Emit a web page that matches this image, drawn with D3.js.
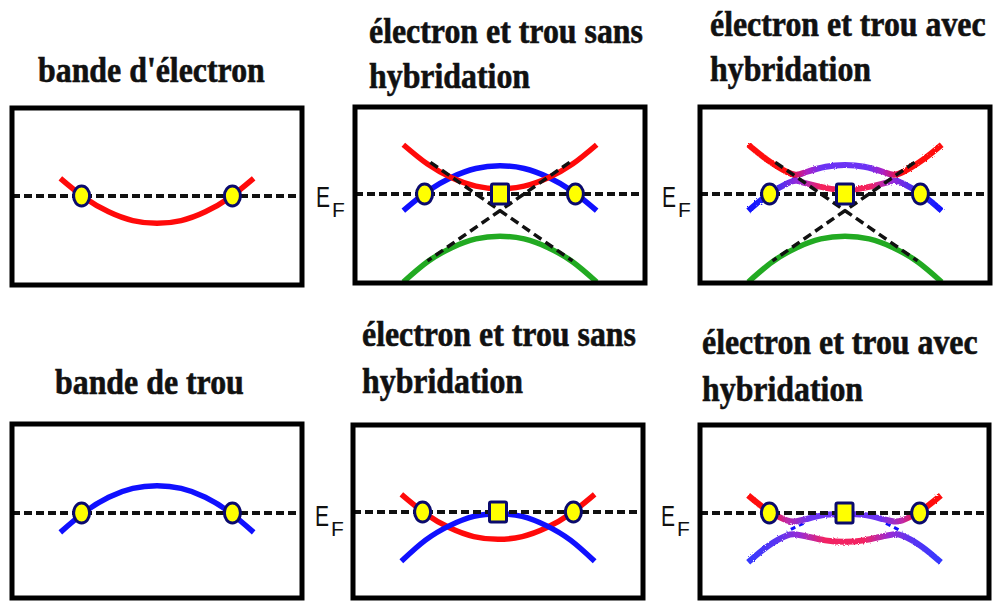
<!DOCTYPE html>
<html>
<head>
<meta charset="utf-8">
<script src="https://cdn.jsdelivr.net/npm/d3@7"></script>
<style>
  body { margin: 0; background: #fff; }
  svg { display: block; }
  .title { font-family: "Liberation Serif", "Times New Roman", "DejaVu Serif", serif; font-weight: bold; font-size: 36px; fill: #111; stroke: #111; stroke-width: 0.6; }
  .ef { font-family: "Liberation Sans", Arial, sans-serif; fill: #111; }
</style>
</head>
<body>
<svg id="chart" width="1000" height="601"></svg>
<script>
// k grid for the simple bands (k = -1 .. 1 spans the drawn curve)
var kGrid = [-1, -0.75, -0.5, -0.25, 0, 0.25, 0.5, 0.75, 1];
// energies relative to E_F (1 unit = half the box height)
var electronBand   = [0.20, -0.02, -0.18, -0.28, -0.31, -0.28, -0.18, -0.02, 0.20];
var holeBand       = [-0.22, 0.01, 0.18, 0.28, 0.31, 0.28, 0.18, 0.01, -0.22];
var electronTop    = [0.56, 0.34, 0.185, 0.09, 0.06, 0.09, 0.185, 0.34, 0.56];
var holeTop        = [-0.19, 0.03, 0.19, 0.29, 0.32, 0.29, 0.19, 0.03, -0.19];
var greenBand      = [-1.0, -0.77, -0.61, -0.51, -0.48, -0.51, -0.61, -0.77, -1.0];
var electronBottom = [0.20, -0.02, -0.18, -0.28, -0.31, -0.28, -0.18, -0.02, 0.20];
var holeBottom     = [-0.56, -0.32, -0.155, -0.05, -0.02, -0.05, -0.155, -0.32, -0.56];

// hybridized bands
var kHyb = [-1, -0.8, -0.6, -0.5, -0.4, -0.2, 0, 0.2, 0.4, 0.5, 0.6, 0.8, 1];
var hybUpperTop    = [0.56, 0.385, 0.25, 0.22, 0.25, 0.31, 0.33, 0.31, 0.25, 0.22, 0.25, 0.385, 0.56];
var hybLowerTop    = [-0.19, -0.01, 0.12, 0.15, 0.12, 0.07, 0.045, 0.07, 0.12, 0.15, 0.12, -0.01, -0.19];
var hybUpperBottom = [0.20, 0.03, -0.083, -0.093, -0.07, -0.021, -0.01, -0.021, -0.07, -0.093, -0.083, 0.03, 0.20];
var hybLowerBottom = [-0.56, -0.38, -0.257, -0.245, -0.264, -0.311, -0.328, -0.311, -0.264, -0.245, -0.257, -0.38, -0.56];

// linear (dashed) dispersions in the top row
var diagK = [-0.72, 0.75];
var diagE = [0.36, -0.76];

// Fermi points
var fermiK = [-0.78, 0.78];
var nodeK = [0];

var titles = [
  ["bande d'électron"],
  ["électron et trou sans", "hybridation"],
  ["électron et trou avec", "hybridation"],
  ["bande de trou"],
  ["électron et trou sans", "hybridation"],
  ["électron et trou avec", "hybridation"]
];

var RED = "#ff0a0a", BLUE = "#1010ff", GREEN = "#22aa22";

var panels = [
  {box: [12, 302, 108, 285], ef: 196, title: titles[0], tx: 38, ty: [82],
   bands: [{k: kGrid, e: electronBand, color: RED}], circles: true},
  {box: [355, 645, 107, 283], ef: 194, title: titles[1], tx: 369, ty: [43, 88],
   bands: [{k: kGrid, e: greenBand, color: GREEN}, {k: kGrid, e: holeTop, color: BLUE}, {k: kGrid, e: electronTop, color: RED}],
   diag: true, circles: true, node: true},
  {box: [700, 990, 107, 283], ef: 194, title: titles[2], tx: 710, ty: [36, 81],
   bands: [{k: kGrid, e: greenBand, color: GREEN},
           {k: kHyb, e: hybLowerTop, grad: [[0, BLUE], [0.12, "#3030f8"], [0.26, "#9a2ad8"], [0.38, "#f4225c"], [0.62, "#f4225c"], [0.74, "#9a2ad8"], [0.88, "#3030f8"], [1, BLUE]]},
           {k: kHyb, e: hybUpperTop, grad: [[0, RED], [0.2, RED], [0.3, "#b020c0"], [0.38, "#6c32f4"], [0.62, "#6c32f4"], [0.7, "#b020c0"], [0.8, RED], [1, RED]]}],
   ghost: {k: kGrid, e: holeTop}, diag: true, circles: true, node: true},
  {box: [12, 302, 424, 598], ef: 513, title: titles[3], tx: 55, ty: [394],
   bands: [{k: kGrid, e: holeBand, color: BLUE}], circles: true},
  {box: [353, 643, 425, 598], ef: 512, title: titles[4], tx: 362, ty: [346, 393],
   bands: [{k: kGrid, e: electronBottom, color: RED}, {k: kGrid, e: holeBottom, color: BLUE}],
   circles: true, node: true},
  {box: [700, 989, 425, 598], ef: 513, title: titles[5], tx: 702, ty: [354, 401],
   bands: [{k: kHyb, e: hybLowerBottom, grad: [[0, "#3438ff"], [0.15, "#5a34f2"], [0.27, "#9a2cd4"], [0.4, "#f22462"], [0.6, "#f22462"], [0.73, "#9a2cd4"], [0.85, "#5a34f2"], [1, "#3438ff"]]},
           {k: kHyb, e: hybUpperBottom, grad: [[0, RED], [0.1, RED], [0.2, "#c02aa8"], [0.32, "#6c34f4"], [0.68, "#6c34f4"], [0.8, "#c02aa8"], [0.9, RED], [1, RED]]}],
   ghost: {k: kGrid, e: holeBottom}, circles: true, node: true}
];

var efLabels = [[316, 207], [662, 207], [315, 526], [661, 526]];

var svg = d3.select("#chart");
var defs = svg.append("defs");

// slightly rough edge for the hybridized bands
var rough = defs.append("filter").attr("id", "rough")
  .attr("x", "-5%").attr("y", "-20%").attr("width", "110%").attr("height", "140%");
rough.append("feTurbulence").attr("type", "fractalNoise").attr("baseFrequency", "0.9").attr("numOctaves", 1).attr("result", "noise");
rough.append("feDisplacementMap").attr("in", "SourceGraphic").attr("in2", "noise").attr("scale", 3);

panels.forEach(function (p, i) {
  var x = d3.scaleLinear().domain([-1.5, 1.5]).range([p.box[0], p.box[1]]);
  var y = d3.scaleLinear().domain([-1, 1]).range([p.ef + 88, p.ef - 88]);
  var line = d3.line().x(function (d) { return x(d[0]); }).y(function (d) { return y(d[1]); }).curve(d3.curveNatural);
  var g = svg.append("g");

  // title: Times bold, narrowed a bit like the original
  var t = g.append("text").attr("class", "title")
    .attr("transform", "translate(" + p.tx + ",0) scale(0.885,1)");
  p.title.forEach(function (s, j) {
    t.append("tspan").attr("x", 0).attr("y", p.ty[j]).text(s);
  });

  // remnants of the unhybridized hole band near the crossings
  if (p.ghost) {
    var cid = "clip" + i;
    var cp = defs.append("clipPath").attr("id", cid);
    [[-0.6, -0.42], [0.42, 0.6]].forEach(function (r) {
      cp.append("rect").attr("x", x(r[0])).attr("width", x(r[1]) - x(r[0]))
        .attr("y", p.box[2]).attr("height", p.box[3] - p.box[2]);
    });
    g.append("path").datum(d3.zip(p.ghost.k, p.ghost.e))
      .attr("d", line).attr("fill", "none").attr("stroke", BLUE)
      .attr("stroke-width", 3).attr("stroke-dasharray", "5,4")
      .attr("clip-path", "url(#" + cid + ")");
  }

  // bands
  p.bands.forEach(function (b, j) {
    var stroke = b.color;
    if (b.grad) {
      var gid = "grad" + i + "_" + j;
      var lg = defs.append("linearGradient").attr("id", gid).attr("gradientUnits", "userSpaceOnUse")
        .attr("x1", x(-1)).attr("x2", x(1)).attr("y1", 0).attr("y2", 0);
      lg.selectAll("stop").data(b.grad).enter().append("stop")
        .attr("offset", function (d) { return d[0]; })
        .attr("stop-color", function (d) { return d[1]; });
      stroke = "url(#" + gid + ")";
    }
    g.append("path").datum(d3.zip(b.k, b.e))
      .attr("d", line).attr("fill", "none").attr("stroke", stroke)
      .attr("stroke-width", b.grad ? 6 : 5.5).attr("stroke-linecap", "butt")
      .attr("filter", b.grad ? "url(#rough)" : null);
  });

  // dashed linear dispersions
  if (p.diag) {
    [[diagK[0], diagE[0], diagK[1], diagE[1]], [-diagK[0], diagE[0], -diagK[1], diagE[1]]].forEach(function (d) {
      g.append("line").attr("x1", x(d[0])).attr("y1", y(d[1])).attr("x2", x(d[2])).attr("y2", y(d[3]))
        .attr("stroke", "#111").attr("stroke-width", 3.5).attr("stroke-dasharray", "9,5");
    });
  }

  // Fermi level
  g.append("line").attr("x1", p.box[0]).attr("x2", p.box[1]).attr("y1", y(0)).attr("y2", y(0))
    .attr("stroke", "#111").attr("stroke-width", 4).attr("stroke-dasharray", "8,4");

  // box
  g.append("rect").attr("x", p.box[0]).attr("y", p.box[2])
    .attr("width", p.box[1] - p.box[0]).attr("height", p.box[3] - p.box[2])
    .attr("fill", "none").attr("stroke", "#000").attr("stroke-width", 5);

  // markers
  if (p.circles) {
    g.selectAll(".fp").data(fermiK).enter().append("ellipse")
      .attr("cx", function (d) { return x(d); }).attr("cy", y(0))
      .attr("rx", 8).attr("ry", 10)
      .attr("fill", "#ffff00").attr("stroke", "#0a0a6e").attr("stroke-width", 3);
  }
  if (p.node) {
    g.selectAll(".nd").data(nodeK).enter().append("rect")
      .attr("x", function (d) { return x(d) - 8.5; }).attr("y", y(0) - 10)
      .attr("width", 17).attr("height", 20).attr("rx", 1.5)
      .attr("fill", "#ffff00").attr("stroke", "#0a0a6e").attr("stroke-width", 3);
  }
});

// E_F labels between the panels
efLabels.forEach(function (l) {
  svg.append("text").attr("class", "ef").attr("font-size", 30)
    .attr("transform", "translate(" + l[0] + "," + l[1] + ") scale(0.7,1)").text("E");
  svg.append("text").attr("class", "ef").attr("font-size", 21)
    .attr("x", l[0] + 16).attr("y", l[1] + 10).text("F");
});
</script>
</body>
</html>
